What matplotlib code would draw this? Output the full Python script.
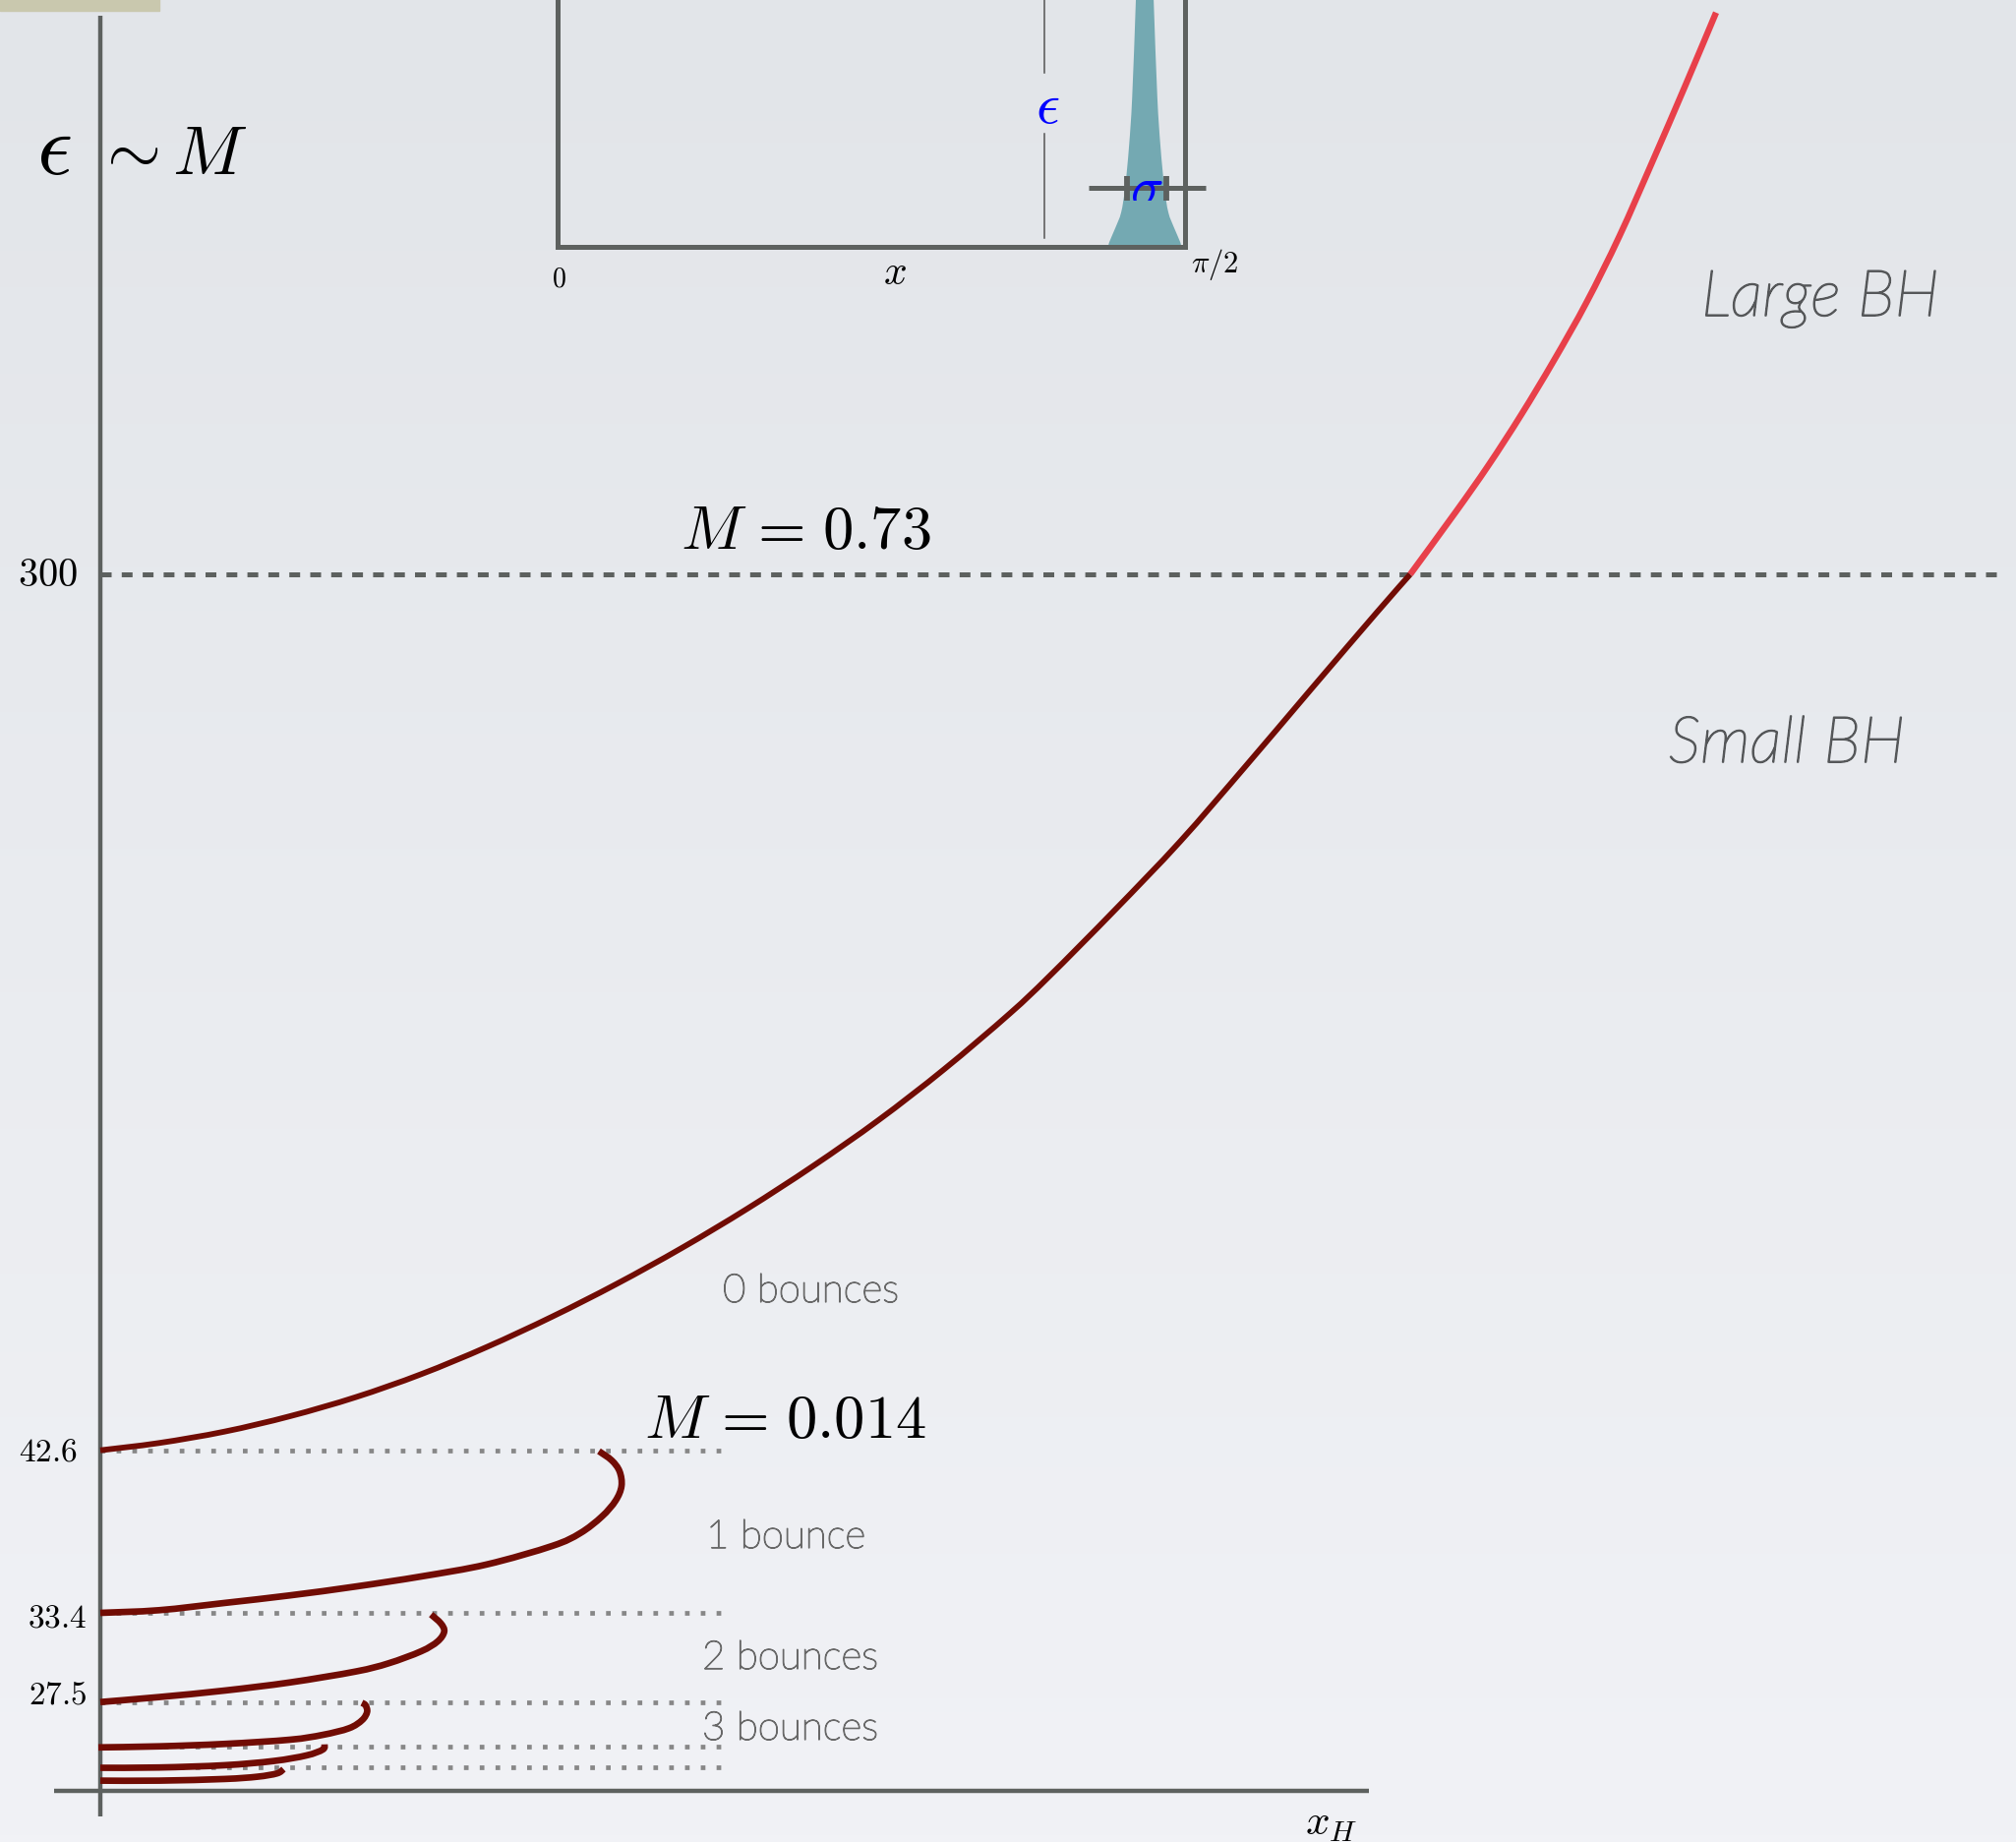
import numpy as np
import matplotlib
matplotlib.use("Agg")
import matplotlib.pyplot as plt
import matplotlib.patheffects as pe
from matplotlib.patches import Rectangle, PathPatch
from matplotlib.path import Path
from matplotlib.transforms import Bbox, TransformedBbox

plt.rcParams['mathtext.fontset'] = 'cm'

# ---------------------------------------------------------------- data
# labelled energy thresholds (dotted / dashed guide levels)
LEVEL_LABELS = ['300', '42.6', '33.4', '27.5']
LEVEL_VALUES = [300.0, 42.6, 33.4, 27.5]
# unlabelled thresholds of the 4- and 5-bounce branches
EXTRA_LEVELS = [24.57, 23.17]

# 0-bounce branch: small black holes, up to the M = 0.73 threshold
XH_SMALL = [0.0, 0.0597, 0.1263, 0.193, 0.2597, 0.3263, 0.393, 0.4597, 0.5247,
            0.5913, 0.658, 0.7247, 0.7913, 0.858, 0.9247, 0.9647, 1.0313, 1.098,
            1.1647, 1.2313, 1.298, 1.332]
EPS_SMALL = [42.6, 44.74, 48.09, 52.63, 58.21, 64.97, 72.95, 81.9, 91.44,
             102.05, 113.61, 126.12, 139.61, 154.55, 170.91, 181.8, 201.25, 221.48,
             243.65, 266.28, 288.8, 300.0]

# large black hole branch above the threshold
XH_LARGE = [1.332, 1.378, 1.4113, 1.4447, 1.478, 1.5113, 1.5447, 1.578, 1.6113, 1.643]
EPS_LARGE = [300.0, 318.21, 331.93, 346.82, 362.80, 379.93, 399.35, 421.08, 443.34, 465.07]

# bounce branches (1 to 5 bounces)
XH_B1 = [0.0, 0.0597, 0.1263, 0.193, 0.2597, 0.3263, 0.393, 0.4597, 0.488, 0.510,
         0.524, 0.530, 0.528, 0.520, 0.507]
EPS_B1 = [33.4, 33.55, 33.96, 34.39, 34.89, 35.46, 36.14, 37.19, 37.91, 38.85,
          39.75, 40.58, 41.41, 42.03, 42.55]
XH_B2 = [0.0, 0.0597, 0.1263, 0.193, 0.2597, 0.293, 0.3263, 0.343, 0.3497, 0.3463, 0.3363]
EPS_B2 = [27.5, 27.83, 28.26, 28.80, 29.52, 30.06, 30.86, 31.51, 32.16, 32.70, 33.29]
XH_B3 = [-0.002, 0.0597, 0.1263, 0.193, 0.2263, 0.253, 0.2663, 0.2713, 0.2697, 0.266]
EPS_B3 = [24.5, 24.57, 24.73, 25.01, 25.33, 25.77, 26.31, 26.85, 27.29, 27.45]
XH_B4 = [0.0, 0.0597, 0.1263, 0.1763, 0.2097, 0.2263, 0.228]
EPS_B4 = [23.15, 23.17, 23.32, 23.60, 23.97, 24.36, 24.70]
XH_B5 = [0.0, 0.0597, 0.1263, 0.1597, 0.1797, 0.1863]
EPS_B5 = [22.30, 22.30, 22.41, 22.56, 22.78, 23.06]

BOUNCE_LABELS = ['0 bounces', '1 bounce', '2 bounces', '3 bounces']
MASS_LABELS = [r'$M\hspace{0.12}=\hspace{0.12}0.73$', r'$M\hspace{0.12}=\hspace{0.12}0.014$']
REGION_LABELS = ['Large BH', 'Small BH']

# initial wave packet near the boundary (offset from centre, amplitude)
PACKET_CENTER = 1.470
PACKET_DX = [-0.0911, -0.0886, -0.0739, -0.0591, -0.0492, -0.0394, -0.0315, -0.0222,
             -0.0148, -0.0074, 0.0, 0.0074, 0.0148, 0.0222, 0.0315, 0.0394, 0.0492,
             0.0591, 0.0739, 0.0886, 0.0911]
PACKET_AMP = [0.0, 0.05, 0.19, 0.35, 0.60, 1.02, 1.52, 2.52, 3.4, 4.0, 4.2, 4.0, 3.4,
              2.52, 1.52, 1.02, 0.60, 0.35, 0.19, 0.05, 0.0]

# ------------------------------------------------------------ layout
W, H = 2050, 1874
# piecewise-linear energy axis (schematic, stretched at low energy)
SCALE_EPS = [18.24, 27.5, 33.4, 42.6, 300.0, 469.06]
SCALE_POS = [0.0, 142.3, 233.0, 398.3, 1289.0, 1874.0]

AX_GRAY = '#5d615f'
DOT_GRAY = '#878787'
DARK_RED = '#710c04'
BRIGHT_RED = '#e8404a'
TEAL = '#74a9b2'
TEXT_GRAY = '#686868'
REGION_GRAY = '#555759'


def fx(x):
    return x / W


def fy(y):
    return 1.0 - y / H


def smooth_path(xs, ys, close=False):
    """Cubic Bezier path passing through every given point (Catmull-Rom)."""
    p = np.column_stack([xs, ys]).astype(float)
    n = len(p)
    verts = [p[0]]
    codes = [Path.MOVETO]
    for i in range(n - 1):
        p0 = p[i - 1] if i > 0 else p[i]
        p3 = p[i + 2] if i + 2 < n else p[i + 1]
        verts += [p[i] + (p[i + 1] - p0) / 6.0, p[i + 1] - (p3 - p[i]) / 6.0, p[i + 1]]
        codes += [Path.CURVE4] * 3
    if close:
        verts.append(p[0])
        codes.append(Path.CLOSEPOLY)
    return Path(verts, codes)


fig = plt.figure(figsize=(W / 100, H / 100), dpi=100)

# soft slide background
bg = fig.add_axes([0, 0, 1, 1], zorder=-10)
t = np.linspace(0, 1, 256)[:, None, None]
top = np.array([226, 229, 233]) / 255.0
bot = np.array([241, 242, 246]) / 255.0
bg.imshow(top + (bot - top) * t, aspect='auto', extent=[0, 1, 0, 1], origin='upper')
bg.axis('off')
fig.patches.append(Rectangle((0, fy(12)), fx(162), 1 - fy(12),
                             transform=fig.transFigure, color='#c9c8ae', zorder=-5))

ax = fig.add_axes([0, 0, 1, 1])
ax.set_yscale('function', functions=(lambda e: np.interp(e, SCALE_EPS, SCALE_POS),
                                     lambda p: np.interp(p, SCALE_POS, SCALE_EPS)))
ax.set_xlim(-0.102, 1.948)
ax.set_ylim(SCALE_EPS[0], SCALE_EPS[-1])
ax.set_autoscale_on(False)
ax.axis('off')

# axes lines
ax.plot([0, 0], [fy(1848), fy(17)], transform=ax.get_xaxis_transform(),
        color=AX_GRAY, lw=3.2, solid_capstyle='butt', zorder=2)
ax.plot([fx(55), fx(1392)], [fy(1821.7)] * 2, transform=ax.transAxes,
        color=AX_GRAY, lw=3.2, solid_capstyle='butt', zorder=2)

# threshold guide lines
ax.plot([0, 1.931], [LEVEL_VALUES[0]] * 2, color=AX_GRAY, lw=3.6,
        ls=(0, (2.2, 2.06)), dash_capstyle='butt', zorder=1)
for lvl in LEVEL_VALUES[1:] + EXTRA_LEVELS:
    ax.plot([0, 0.631], [lvl, lvl], color=DOT_GRAY, lw=3.4,
            ls=(0, (1.0, 2.4)), dash_capstyle='butt', zorder=1)

# branches
branches = [(XH_SMALL, EPS_SMALL, DARK_RED, 4.2),
            (XH_LARGE, EPS_LARGE, BRIGHT_RED, 4.6),
            (XH_B1, EPS_B1, DARK_RED, 4.8), (XH_B2, EPS_B2, DARK_RED, 4.8),
            (XH_B3, EPS_B3, DARK_RED, 4.8), (XH_B4, EPS_B4, DARK_RED, 4.8),
            (XH_B5, EPS_B5, DARK_RED, 4.8)]
for xs, es, col, lw in branches:
    ax.add_patch(PathPatch(smooth_path(xs, es), fill=False, edgecolor=col, lw=lw,
                           capstyle='butt', joinstyle='round', zorder=3))

# level labels
label_right = [79, 79, 88, 88]
label_size = [29, 24, 24, 24]
label_dy = [0, 0, -3, 6]
for lab, v, rx, fs, dy in zip(LEVEL_LABELS, LEVEL_VALUES, label_right, label_size, label_dy):
    ax.annotate(f'${lab}$', xy=(fx(rx), v), xycoords=('axes fraction', 'data'),
                xytext=(0, dy), textcoords='offset points',
                ha='right', va='center', fontsize=fs, color='black')

# axis titles
fig.text(fx(55), fy(153), r'$\epsilon$', fontsize=64, ha='center', va='center')
fig.text(fx(96), fy(177), r'$\sim M$', fontsize=51, ha='left', va='baseline')
fig.text(fx(1327), fy(1866), r'$x_H$', fontsize=31, ha='left', va='baseline')

# mass annotations
fig.text(fx(692), fy(558), MASS_LABELS[0], fontsize=45, ha='left', va='baseline')
fig.text(fx(655), fy(1462), MASS_LABELS[1], fontsize=45, ha='left', va='baseline')

# bounce annotations (light face, slightly thickened)
for lab, (lx, ly) in zip(BOUNCE_LABELS, [(735, 1325), (718, 1575), (714, 1698), (714, 1770)]):
    fig.text(fx(lx), fy(ly), lab, fontsize=29, family='Lato', weight='light',
             color=TEXT_GRAY, ha='left', va='baseline',
             path_effects=[pe.withStroke(linewidth=0.9, foreground=TEXT_GRAY)])

# region annotations
for lab, (lx, ly) in zip(REGION_LABELS, [(1730, 322), (1697, 776)]):
    fig.text(fx(lx), fy(ly), lab, fontsize=47, family='Lato', weight='light',
             style='italic', color=REGION_GRAY, ha='left', va='baseline',
             path_effects=[pe.withStroke(linewidth=1.2, foreground=REGION_GRAY)])

# ------------------------------------------------------------ inset
ax_in = fig.add_axes([fx(567), fy(252), fx(1205) - fx(567), fy(0) - fy(252)])
ax_in.set_xlim(0, np.pi / 2)
ax_in.set_ylim(0, 2.52)
ax_in.set_autoscale_on(False)
ax_in.patch.set_alpha(0)
for s in ['left', 'right', 'bottom']:
    ax_in.spines[s].set_color(AX_GRAY)
    ax_in.spines[s].set_linewidth(3.6)
ax_in.spines['top'].set_visible(False)
ax_in.set_xticks([])
ax_in.set_yticks([])

ax_in.add_patch(PathPatch(smooth_path(PACKET_CENTER + np.array(PACKET_DX), PACKET_AMP,
                                      close=True),
                          facecolor=TEAL, edgecolor='none', zorder=1))

# amplitude marker
ax_in.plot([1.2186, 1.2186], [1.77, 2.6], color='#555555', lw=1.1, zorder=2)
ax_in.plot([1.2186, 1.2186], [0.09, 1.15], color='#555555', lw=1.1, zorder=2)
ax_in.text(1.226, 1.44, r'$\epsilon$', color='blue', fontsize=43, ha='center', va='center')

# width marker
ax_in.plot([1.3294, 1.6224], [0.60, 0.60], color=AX_GRAY, lw=3.6,
           solid_capstyle='butt', clip_on=False, zorder=3)
for cx in [1.4254, 1.5239]:
    ax_in.plot([cx, cx], [0.47, 0.72], color=AX_GRAY, lw=4.2,
               solid_capstyle='butt', clip_on=False, zorder=3)
sig = ax_in.text(1.474, 0.43, r'$\sigma$', color='blue', fontsize=40,
                 ha='center', va='baseline', zorder=4)
sig.set_clip_box(TransformedBbox(Bbox([[1.3, 0.47], [1.7, 3.0]]), ax_in.transData))
sig.set_clip_on(True)

fig.text(fx(568), fy(284), r'$0$', fontsize=20, ha='center', va='center')
fig.text(fx(910), fy(277), r'$x$', fontsize=30, ha='center', va='center')
fig.text(fx(1211), fy(277), r'$\pi/2$', fontsize=22, ha='left', va='baseline')

fig.savefig('out.png', dpi=100)
